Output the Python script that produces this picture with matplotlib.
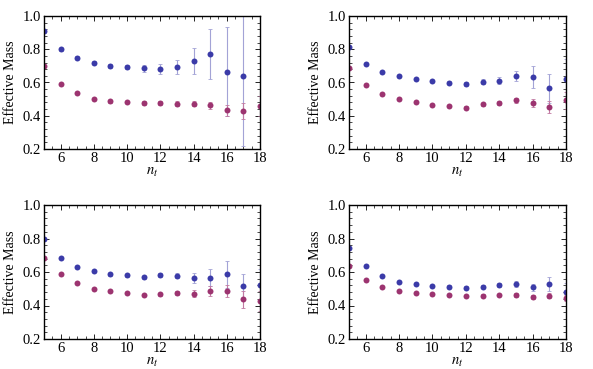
import matplotlib

matplotlib.use("Agg")
import matplotlib.pyplot as plt
from matplotlib.ticker import MultipleLocator

plt.rcParams["font.family"] = ["Liberation Serif", "DejaVu Serif"]
plt.rcParams["mathtext.fontset"] = "stix"

nan = float("nan")
nt = [5, 6, 7, 8, 9, 10, 11, 12, 13, 14, 15, 16, 17, 18]

# top left
tl_blue = [0.91, 0.80, 0.75, 0.72, 0.70, 0.696, 0.686, 0.682, 0.694, 0.73, 0.77, 0.666, 0.638, nan]
tl_blue_err = [0.01, 0.008, 0.008, 0.01, 0.01, 0.012, 0.022, 0.03, 0.042, 0.08, 0.15, 0.27, 0.42, nan]
tl_red = [0.70, 0.59, 0.536, 0.502, 0.486, 0.482, 0.476, 0.476, 0.472, 0.472, 0.462, 0.432, 0.428, 0.46]
tl_red_err = [0.005, 0.005, 0.005, 0.006, 0.008, 0.008, 0.01, 0.012, 0.014, 0.016, 0.02, 0.035, 0.05, 0.06]

# top right
tr_blue = [0.812, 0.714, 0.664, 0.638, 0.622, 0.61, 0.60, 0.59, 0.604, 0.612, 0.64, 0.634, 0.564, 0.62]
tr_blue_err = [0.006, 0.006, 0.006, 0.007, 0.008, 0.008, 0.01, 0.012, 0.016, 0.02, 0.03, 0.065, 0.09, 0.12]
tr_red = [0.69, 0.586, 0.532, 0.502, 0.482, 0.466, 0.458, 0.448, 0.468, 0.478, 0.492, 0.476, 0.452, 0.492]
tr_red_err = [0.004, 0.004, 0.005, 0.005, 0.006, 0.006, 0.007, 0.008, 0.01, 0.012, 0.015, 0.025, 0.035, 0.05]

# bottom left
bl_blue = [0.795, 0.686, 0.632, 0.606, 0.586, 0.58, 0.568, 0.582, 0.578, 0.562, 0.566, 0.586, 0.516, 0.52]
bl_blue_err = [0.006, 0.006, 0.006, 0.007, 0.008, 0.008, 0.01, 0.012, 0.016, 0.03, 0.05, 0.08, 0.075, 0.1]
bl_red = [0.686, 0.586, 0.532, 0.50, 0.485, 0.475, 0.461, 0.467, 0.473, 0.471, 0.489, 0.485, 0.437, 0.429]
bl_red_err = [0.004, 0.004, 0.005, 0.005, 0.006, 0.006, 0.007, 0.008, 0.012, 0.02, 0.03, 0.035, 0.05, 0.06]

# bottom right
br_blue = [0.741, 0.636, 0.574, 0.542, 0.528, 0.516, 0.512, 0.506, 0.512, 0.524, 0.528, 0.508, 0.528, 0.483]
br_blue_err = [0.005, 0.005, 0.005, 0.006, 0.006, 0.007, 0.008, 0.008, 0.01, 0.012, 0.02, 0.02, 0.04, 0.05]
br_red = [0.636, 0.55, 0.512, 0.487, 0.475, 0.469, 0.465, 0.459, 0.459, 0.463, 0.463, 0.453, 0.459, 0.445]
br_red_err = [0.004, 0.004, 0.004, 0.005, 0.005, 0.005, 0.006, 0.006, 0.007, 0.008, 0.01, 0.012, 0.015, 0.02]

panels = [
    (tl_blue, tl_blue_err, tl_red, tl_red_err),
    (tr_blue, tr_blue_err, tr_red, tr_red_err),
    (bl_blue, bl_blue_err, bl_red, bl_red_err),
    (br_blue, br_blue_err, br_red, br_red_err),
]

# axes rectangles in pixels: left, top, right, bottom
boxes = [(44, 16, 260, 149), (349, 16, 566, 149), (44, 205, 260, 339), (349, 205, 566, 339)]

W, H = 593, 369
fig = plt.figure(figsize=(W / 100, H / 100), dpi=100)

BLUE = "#3b3ba8"
RED = "#9c3470"

for (blue, blue_err, red, red_err), (l, t, r, b) in zip(panels, boxes):
    ax = fig.add_axes([l / W, 1 - b / H, (r - l) / W, (b - t) / H])
    ax.errorbar(nt, blue, yerr=blue_err, fmt="o", color=BLUE, ms=4.3, mec="none",
                ecolor="#a3a3d6", elinewidth=0.8, capsize=1.2, capthick=0.6)
    ax.errorbar(nt, red, yerr=red_err, fmt="o", color=RED, ms=4.3, mec="none",
                ecolor="#c27aa3", elinewidth=0.8, capsize=1.2, capthick=0.6)
    ax.set_xlim(5, 18)
    ax.set_ylim(0.2, 1.0)
    ax.xaxis.set_major_locator(MultipleLocator(2))
    ax.xaxis.set_minor_locator(MultipleLocator(0.5))
    ax.yaxis.set_major_locator(MultipleLocator(0.2))
    ax.yaxis.set_minor_locator(MultipleLocator(0.04))
    ax.set_xticks([6, 8, 10, 12, 14, 16, 18])
    ax.tick_params(which="both", direction="in", top=True, right=True, labelsize=10.5, pad=2)
    ax.tick_params(which="major", length=3.5, width=0.6)
    ax.tick_params(which="minor", length=2, width=0.5)
    for s in ax.spines.values():
        s.set_linewidth(1.0)
    ax.set_ylabel("Effective Mass", fontsize=10, labelpad=4)
    ax.set_xlabel("$n_t$", fontsize=10.5, labelpad=1)

fig.savefig("out.png", dpi=100)
